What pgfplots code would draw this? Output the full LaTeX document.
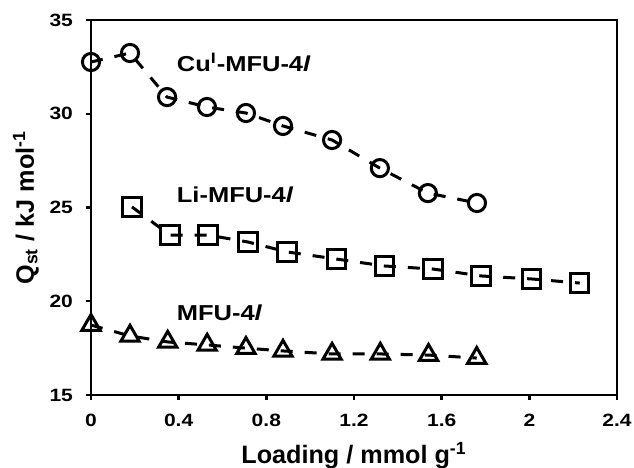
\documentclass[border=0pt]{standalone}
\usepackage{fontspec}
\setmainfont{Liberation Sans}
\newfontfamily\widesans[FakeStretch=1.18]{Liberation Sans}
\usepackage{pgfplots}
\pgfplotsset{compat=1.18}

\pgfplotstableread{
x y
0.000 32.76
0.178 33.24
0.347 30.89
0.529 30.36
0.707 30.04
0.876 29.35
1.100 28.60
1.318 27.10
1.537 25.77
1.761 25.24
}\cudata

\pgfplotstableread{
x y
0.187 25.03
0.360 23.53
0.534 23.53
0.716 23.16
0.895 22.63
1.120 22.25
1.340 21.88
1.560 21.72
1.780 21.35
2.010 21.19
2.230 20.97
}\lidata

\pgfplotstableread{
x y
0.000 18.73
0.178 18.15
0.350 17.83
0.530 17.67
0.707 17.50
0.876 17.35
1.100 17.19
1.320 17.19
1.540 17.13
1.760 16.97
}\mfudata

\begin{document}
\begin{tikzpicture}
\begin{axis}[
  name=ax,
  scale only axis,
  width=263pt, height=187.5pt,
  xmin=0, xmax=2.4, ymin=15, ymax=35,
  xtick={0,0.4,0.8,1.2,1.6,2,2.4},
  ytick={15,20,25,30,35},
  tick pos=left,
  tick align=outside,
  major tick length=2.5pt,
  every tick/.style={black, line width=1.2pt},
  axis line style={line width=1.4pt},
  /pgf/number format/assume math mode=true,
  /pgf/number format/fixed,
  tick label style={font=\widesans\bfseries\fontsize{8.9}{10}\selectfont},
  xticklabel style={yshift=-3.5pt},
  yticklabel style={xshift=-3pt},
  xlabel={Loading / mmol g\textsuperscript{-1}},
  ylabel={Q\textsubscript{st} / kJ mol\textsuperscript{-1}},
  label style={font=\bfseries\fontsize{12.6}{14}\selectfont},
  xlabel style={yshift=-1pt},
  ylabel style={yshift=-1.5pt},
  clip=false,
]
% markers first, dashed line drawn over them as in the original
\addplot[only marks, mark=o, mark size=4.3pt, line width=1.5pt, black] table {\cudata};
\addplot[no marks, black, line width=1.5pt, dash pattern=on 6pt off 6pt] table {\cudata};
\addplot[only marks, mark=square, mark size=4.6pt, line width=1.5pt, black] table {\lidata};
\addplot[no marks, black, line width=1.5pt, dash pattern=on 6pt off 6pt] table {\lidata};
\addplot[only marks, mark=triangle, mark size=5.3pt, line width=1.5pt, black] table {\mfudata};
\addplot[no marks, black, line width=1.5pt, dash pattern=on 6pt off 6pt] table {\mfudata};

\node[anchor=west, font=\widesans\bfseries\fontsize{10.8}{12}\selectfont, inner sep=0pt]
  at (axis cs:0.39,32.76) {Cu\textsuperscript{I}-MFU-4\textit{l}};
\node[anchor=west, font=\widesans\bfseries\fontsize{10.8}{12}\selectfont, inner sep=0pt]
  at (axis cs:0.39,25.67) {Li-MFU-4\textit{l}};
\node[anchor=west, font=\widesans\bfseries\fontsize{10.8}{12}\selectfont, inner sep=0pt]
  at (axis cs:0.39,19.37) {MFU-4\textit{l}};
\end{axis}
\pgfresetboundingbox
\path[use as bounding box] ([xshift=-45.5pt,yshift=-36pt]ax.south west)
  rectangle ([xshift=8.5pt,yshift=10pt]ax.north east);
\end{tikzpicture}
\end{document}
